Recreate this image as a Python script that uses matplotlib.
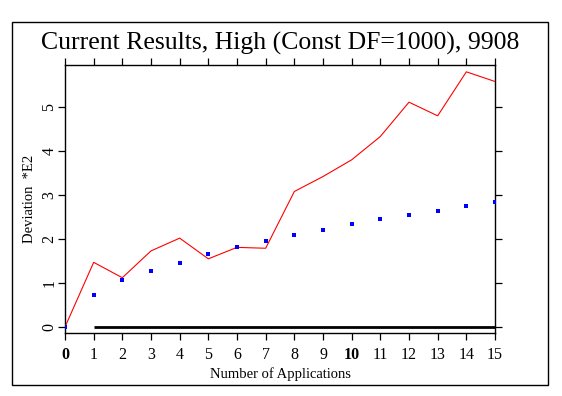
import matplotlib
matplotlib.use("Agg")
import matplotlib.pyplot as plt
from matplotlib.patches import Rectangle

applications = list(range(16))
deviation = [0.0, 1.47, 1.12, 1.73, 2.02, 1.55, 1.81, 1.79, 3.08, 3.42, 3.80, 4.33, 5.11, 4.80, 5.80, 5.58]
expected = [0.0, 0.72, 1.06, 1.27, 1.46, 1.65, 1.81, 1.95, 2.08, 2.20, 2.33, 2.45, 2.55, 2.64, 2.74, 2.83]
baseline_x = [1, 15]
baseline_y = [0, 0]
xtick_labels = [str(i) for i in range(16)]
ytick_values = [0, 1, 2, 3, 4, 5]

plt.rcParams['font.family'] = ['Liberation Serif', 'DejaVu Serif']

W, H = 562, 396
fig = plt.figure(figsize=(W / 100, H / 100), dpi=100)

# outer frame
fig.patches.append(Rectangle((12.3 / W, 1 - 385.3 / H), (548.3 - 12.3) / W, (385.3 - 22) / H,
                             transform=fig.transFigure, fill=False, edgecolor='black', linewidth=1.0))

ax = fig.add_axes([65 / W, 1 - 333.3 / H, (495 - 65) / W, (333.3 - 65) / H])

ax.plot(applications, deviation, color='red', linewidth=0.8, zorder=3)
ax.plot(applications, expected, linestyle='none', marker='s', markersize=2.3,
        color='blue', markeredgewidth=0, zorder=4)
ax.plot(baseline_x, baseline_y, color='black', linewidth=2.0, solid_capstyle='butt', zorder=2)

ax.set_xlim(0, 15)
ax.set_ylim(-0.143, 5.955)

ax.set_xticks(applications)
ax.set_xticklabels(xtick_labels, fontsize=11.5)
for lbl in ax.get_xticklabels():
    if lbl.get_text() in ('0', '10'):
        lbl.set_fontweight('bold')
ax.set_yticks(ytick_values)
ax.set_yticklabels([str(v) for v in ytick_values], fontsize=11.5, rotation=90, va='center')

ax.tick_params(axis='both', direction='out', length=5, width=0.9, top=True, right=True,
               labeltop=False, labelright=False)
ax.tick_params(axis='x', pad=5)
ax.tick_params(axis='y', pad=0.5)

for s in ax.spines.values():
    s.set_linewidth(1.0)

ax.set_xlabel('Number of Applications', fontsize=10.5, labelpad=3)
ax.set_ylabel('Deviation  *E2', fontsize=10.5, labelpad=4)

fig.text(280 / W, 1 - 43 / H, 'Current Results, High (Const DF=1000), 9908',
         ha='center', va='center', fontsize=18.5)

fig.savefig('out.png', dpi=100)
